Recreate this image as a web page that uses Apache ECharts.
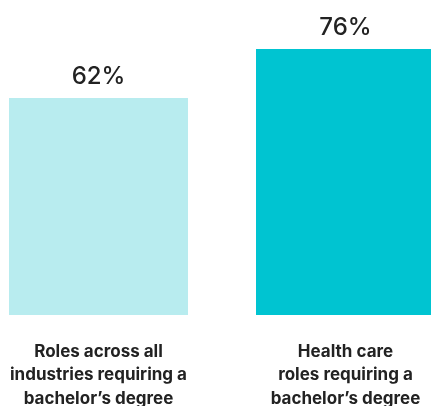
<!DOCTYPE html>
<html><head><meta charset="utf-8">
<script src="https://cdn.jsdelivr.net/npm/echarts@6/dist/echarts.min.js"></script>
<style>html,body{margin:0;padding:0;background:#fff}#c{width:431px;height:406px}</style>
</head><body><div id="c"></div>
<script>
const categories = ["Roles across all\nindustries requiring a\nbachelor\u2019s degree", "Health care\nroles requiring a\nbachelor\u2019s degree"];
const values = [62, 76];
const barColors = ["#b8ecef", "#00c4d1"];

const chart = echarts.init(document.getElementById('c'), null, {renderer: 'canvas'});
chart.setOption({
  animation: false,
  grid: {left: 98.5, width: 247, top: 35, bottom: 91, containLabel: false, outerBoundsMode: 'none'},
  xAxis: {
    type: 'category', data: categories, boundaryGap: false,
    axisLine: {show: false}, axisTick: {show: false},
    axisLabel: {interval: 0, fontFamily: 'Inter', fontWeight: 'bold', fontSize: 17, lineHeight: 23.5, color: '#222', margin: 25, align: 'center'}
  },
  yAxis: {type: 'value', min: 0, max: 80, show: false, splitLine: {show: false}},
  series: [{
    type: 'bar', barWidth: 179, clip: false,
    data: values.map((v, i) => ({value: v, itemStyle: {color: barColors[i]}})),
    label: {show: true, position: 'top', distance: 9, formatter: '{c}%', fontFamily: 'Inter', fontWeight: 500, fontSize: 24, color: '#222'}
  }]
});
</script></body></html>
